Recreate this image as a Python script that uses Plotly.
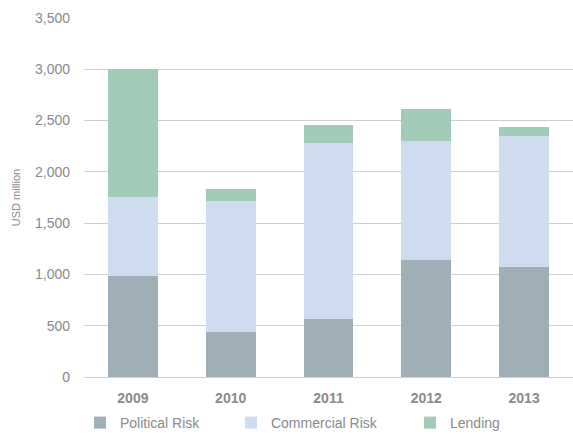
import plotly.graph_objects as go

years = ["2009", "2010", "2011", "2012", "2013"]
political_risk = [985, 440, 565, 1140, 1072]
commercial_risk = [770, 1275, 1716, 1160, 1277]
lending = [1245, 117, 175, 312, 88]

series = [
    ("Political Risk", political_risk, "#9EAFB8", "legend", 0.1396),
    ("Commercial Risk", commercial_risk, "#CDDCEE", "legend2", 0.4031),
    ("Lending", lending, "#A2CBB7", "legend3", 0.7155),
]

grey = "#8a8a8a"
fig = go.Figure()
legends = {}
for name, vals, color, leg, lx in series:
    fig.add_trace(go.Bar(x=years, y=vals, name=name, marker_color=color,
                         marker_line_width=0, legend=leg))
    legends[leg] = dict(orientation="h", xref="container", yref="container",
                        x=lx, y=0.0276, xanchor="left", yanchor="middle",
                        font=dict(size=14, color=grey),
                        itemwidth=30, bgcolor="rgba(0,0,0,0)")

fig.update_layout(
    barmode="stack",
    bargap=0.49,
    width=573, height=435,
    margin=dict(l=84, r=0, t=18, b=58),
    plot_bgcolor="white", paper_bgcolor="white",
    font=dict(family="Liberation Sans, Arial, sans-serif", color=grey, size=14),
    showlegend=True,
    xaxis=dict(tickfont=dict(size=14, color=grey, weight="bold"),
               showline=False, ticks="", ticklabelstandoff=11),
    yaxis=dict(range=[0, 3500], dtick=500, tickformat=",d",
               gridcolor="#cfcfcf", gridwidth=1, zeroline=True,
               zerolinecolor="#cfcfcf", zerolinewidth=1,
               ticks="", ticklabelstandoff=13,
               tickfont=dict(size=14, color=grey),
               title=dict(text="USD million", font=dict(size=11, color=grey),
                          standoff=12)),
    **legends,
)

fig.write_html("out.html")
